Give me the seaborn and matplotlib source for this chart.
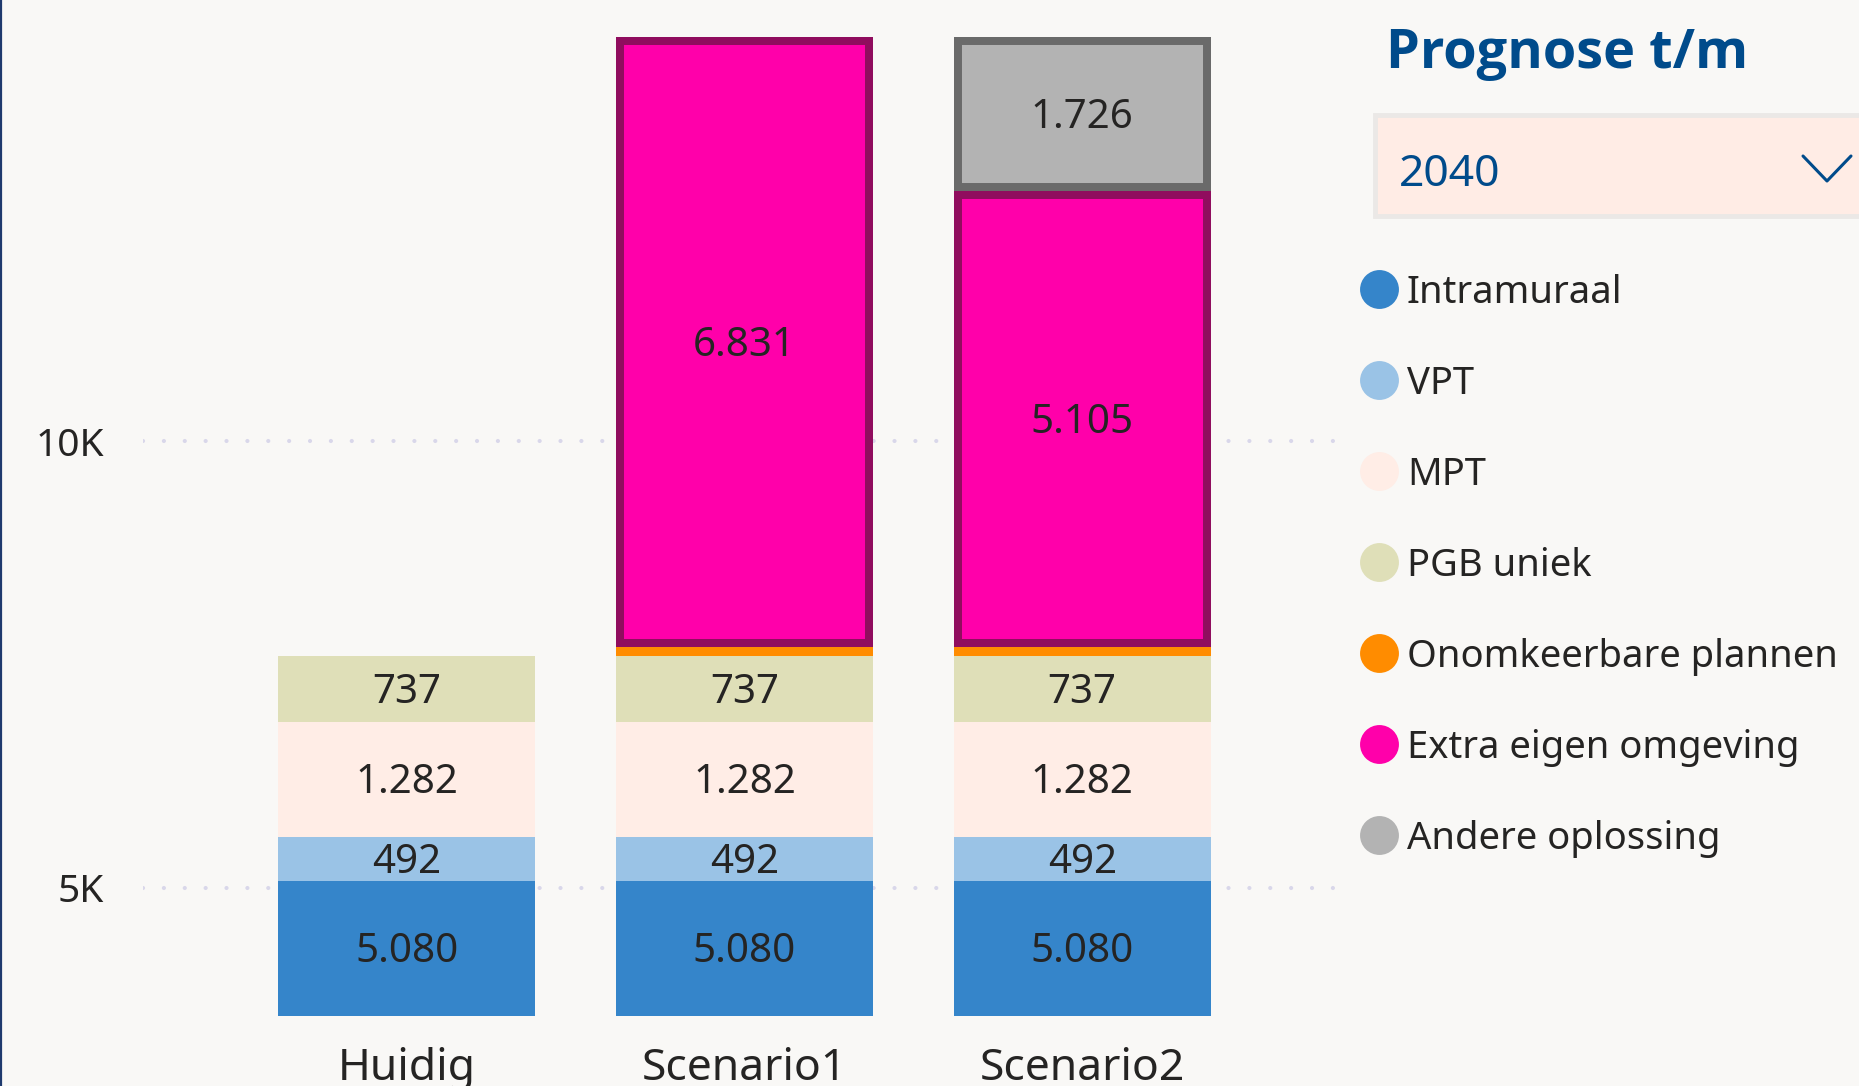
import matplotlib.pyplot as plt
import matplotlib.patches as mpatches
import matplotlib.transforms as mtransforms
from matplotlib.lines import Line2D
import numpy as np
import pandas as pd
import seaborn as sns

# chart data
categories = ["Huidig", "Scenario1", "Scenario2"]
intramuraal = [5080, 5080, 5080]
vpt = [492, 492, 492]
mpt = [1282, 1282, 1282]
pgb_uniek = [737, 737, 737]
onomkeerbaar = [0, 110, 110]
extra_eigen = [0, 6831, 5105]
andere = [0, 0, 1726]

series_names = ["Intramuraal", "VPT", "MPT", "PGB uniek",
                "Onomkeerbare plannen", "Extra eigen omgeving", "Andere oplossing"]
series_values = [intramuraal, vpt, mpt, pgb_uniek, onomkeerbaar, extra_eigen, andere]
series_colors = ["#3585CA", "#9AC3E6", "#FFEDE6", "#DFDFB8", "#FF8C00", "#FF00AA", "#B3B3B3"]
series_edges = [None, None, None, None, None, "#900D5E", "#6A6A6A"]
show_label = [True, True, True, True, False, True, True]

prognose_jaar = "2040"
y_ticks = [5000, 10000]
y_ticklabels = ["5K", "10K"]

W, H = 1859, 1086
BG = "#F9F8F6"
TXT = "#252423"
BLUE = "#004B8B"

sns.set_theme(style="white")
plt.rcParams['font.family'] = ['Noto Sans', 'DejaVu Sans']

fig = plt.figure(figsize=(W / 100, H / 100), dpi=100, facecolor=BG)
ax = fig.add_axes([143 / W, (H - 1016) / H, (1346 - 143) / W, 1016 / H])
ax.set_facecolor(BG)

# push bar labels a few pixels down
lab_trans = mtransforms.offset_copy(ax.transData, fig=fig, x=0, y=-4, units="dots")

ylo, yhi = 3562, 14945
bottoms = np.zeros(len(categories))
for name, vals, col, edge, lab in zip(series_names, series_values, series_colors,
                                      series_edges, show_label):
    vals = np.array(vals, dtype=float)
    mask = vals > 0
    df = pd.DataFrame({"cat": np.array(categories)[mask], "val": vals[mask]})
    n_before = len(ax.patches)
    if edge:
        kw = dict(edgecolor=edge, linewidth=11.5)
    else:
        kw = dict(linewidth=0)
    sns.barplot(data=df, x="cat", y="val", order=categories, color=col, saturation=1,
                width=0.76, bottom=bottoms[mask], ax=ax, zorder=3, **kw)
    for p in ax.patches[n_before:]:
        p.set_facecolor(col)
        if edge:
            p.set_clip_path(p)
    if lab:
        for i in np.where(mask)[0]:
            lo = max(bottoms[i], ylo)
            hi = bottoms[i] + vals[i]
            ax.text(i, (lo + hi) / 2, f"{int(vals[i]):,}".replace(",", "."),
                    ha="center", va="center", fontsize=29, color=TXT, zorder=5,
                    transform=lab_trans)
    bottoms = bottoms + vals

ax.set_xlim(-0.781, 2.781)
ax.set_ylim(ylo, yhi)
ax.set_yticks(y_ticks)
ax.set_yticklabels(y_ticklabels)
ax.set_xlabel("")
ax.set_ylabel("")
ax.tick_params(axis="y", length=0, pad=28, labelsize=28, labelcolor=TXT)
ax.tick_params(axis="x", length=0, pad=22, labelsize=32, labelcolor=TXT)
sns.despine(ax=ax, left=True, bottom=True)
ax.set_axisbelow(True)
ax.yaxis.grid(True, color="#D9D7EA", linewidth=3, linestyle=(0, (0.01, 5)))
for gl in ax.get_ygridlines():
    gl.set_dash_capstyle("round")
    gl.set_zorder(0)

# slicer header and dropdown
fig.text(1386 / W, 1 - 68 / H, "Prognose t/m", fontsize=39, fontweight="bold",
         family=["Open Sans", "DejaVu Sans"], color=BLUE, ha="left", va="baseline")
fig.patches.append(mpatches.Rectangle((1375 / W, 1 - 216 / H), 500 / W, 101 / H,
                                      transform=fig.transFigure, facecolor="#FFECE5",
                                      edgecolor="#EBE8E6", linewidth=3.5))
fig.text(1399 / W, 1 - 175 / H, prognose_jaar, fontsize=32, color=BLUE,
         ha="left", va="center")
fig.add_artist(Line2D([1803 / W, 1827 / W, 1851 / W], [1 - 156 / H, 1 - 181 / H, 1 - 156 / H],
                      color=BLUE, linewidth=2.2, transform=fig.transFigure))

# legend
for k, (name, col) in enumerate(zip(series_names, series_colors)):
    yy = 1 - (289 + k * 91) / H
    fig.add_artist(Line2D([1379 / W], [yy], marker="o", markersize=28, color=col,
                          markeredgewidth=0, linestyle="", transform=fig.transFigure))
    fig.text(1407 / W, yy - 4 / H, name, fontsize=27.5, color=TXT, ha="left", va="center")

# left border line
fig.add_artist(Line2D([1 / W, 1 / W], [0, 1], color="#1F3A6E", linewidth=1.6,
                      transform=fig.transFigure))

fig.savefig("out.png", dpi=100, facecolor=BG)
